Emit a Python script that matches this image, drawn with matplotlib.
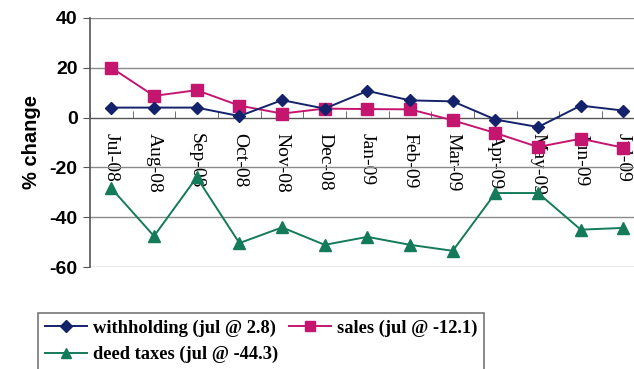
import numpy as np
import matplotlib
matplotlib.use("Agg")
from matplotlib import pyplot as plt

months = ['Jul-08', 'Aug-08', 'Sep-08', 'Oct-08', 'Nov-08', 'Dec-08', 'Jan-09',
          'Feb-09', 'Mar-09', 'Apr-09', 'May-09', 'Jun-09', 'Jul-09']
withholding = [4.0, 4.0, 4.0, 0.6, 7.0, 3.6, 10.7, 6.9, 6.5, -0.8, -3.8, 4.8, 2.8]
sales = [20.0, 8.7, 11.0, 4.8, 1.6, 3.6, 3.4, 3.3, -1.1, -6.2, -11.8, -8.5, -12.1]
deed_taxes = [-28.4, -47.6, -24.0, -50.4, -44.1, -51.1, -47.9, -51.1, -53.5,
              -30.3, -30.3, -45.0, -44.3]
y_ticks = [-60, -40, -20, 0, 20, 40]

plt.rcParams['axes.unicode_minus'] = False


def main():
    fig = plt.figure(figsize=(6.34, 3.69), dpi=100)
    ax = fig.add_axes([0.142, 0.2764, 0.875, 0.675])

    x = np.arange(len(months))
    l1, = ax.plot(x, withholding, color='#13226b', marker='D', markersize=6.5, lw=1.4,
                  label='withholding (jul @ 2.8)', zorder=4)
    l2, = ax.plot(x, sales, color='#c4166e', marker='s', markersize=8, lw=1.4,
                  label='sales (jul @ -12.1)', zorder=3)
    l3, = ax.plot(x, deed_taxes, color='#137a5a', marker='^', markersize=8, lw=1.4,
                  label='deed taxes (jul @ -44.3)', zorder=3)

    ax.set_xlim(-0.5, len(months) - 0.5)
    ax.set_ylim(-60, 40)
    ax.set_yticks(y_ticks)
    ax.yaxis.grid(True, color='#8a8a8a', lw=1.0)
    ax.set_axisbelow(True)

    for side in ['top', 'right']:
        ax.spines[side].set_visible(False)
    ax.spines['bottom'].set_position(('data', 0))
    ax.spines['bottom'].set_color('#555555')
    ax.spines['left'].set_color('#555555')
    ax.spines['left'].set_linewidth(1.2)

    ax.set_xticks(x)
    ax.set_xticklabels(months, rotation=270, family='Liberation Serif', fontsize=14)
    ax.set_xticks(np.arange(-0.5, len(months), 1.0), minor=True)
    ax.tick_params(axis='x', which='major', length=0, pad=11)
    ax.tick_params(axis='x', which='minor', direction='in', length=5, color='#555555')
    ax.tick_params(axis='y', length=5, color='#555555', pad=4)
    for lbl in ax.get_yticklabels():
        lbl.set_family('Liberation Sans')
        lbl.set_fontsize(14)
        lbl.set_weight('bold')
    ax.set_ylabel('% change', family='Liberation Sans', fontsize=14.5,
                  weight='bold', labelpad=6)

    # column-major fill: withholding / sales on the first row, deed taxes below
    leg = fig.legend([l1, l3, l2], [l1.get_label(), l3.get_label(), l2.get_label()],
                     loc='upper left', bbox_to_anchor=(0.06, 0.152), borderaxespad=0,
                     ncol=2,
                     prop={'family': 'Liberation Serif', 'weight': 'bold', 'size': 13.3},
                     frameon=True, fancybox=False, handlelength=2.3,
                     handletextpad=0.3, columnspacing=0.6, borderpad=0.35,
                     labelspacing=0.5, markerscale=0.9)
    leg.get_frame().set_edgecolor('#555555')
    leg.get_frame().set_linewidth(1.2)

    fig.savefig('out.png', dpi=100)


if __name__ == "__main__":
    main()
